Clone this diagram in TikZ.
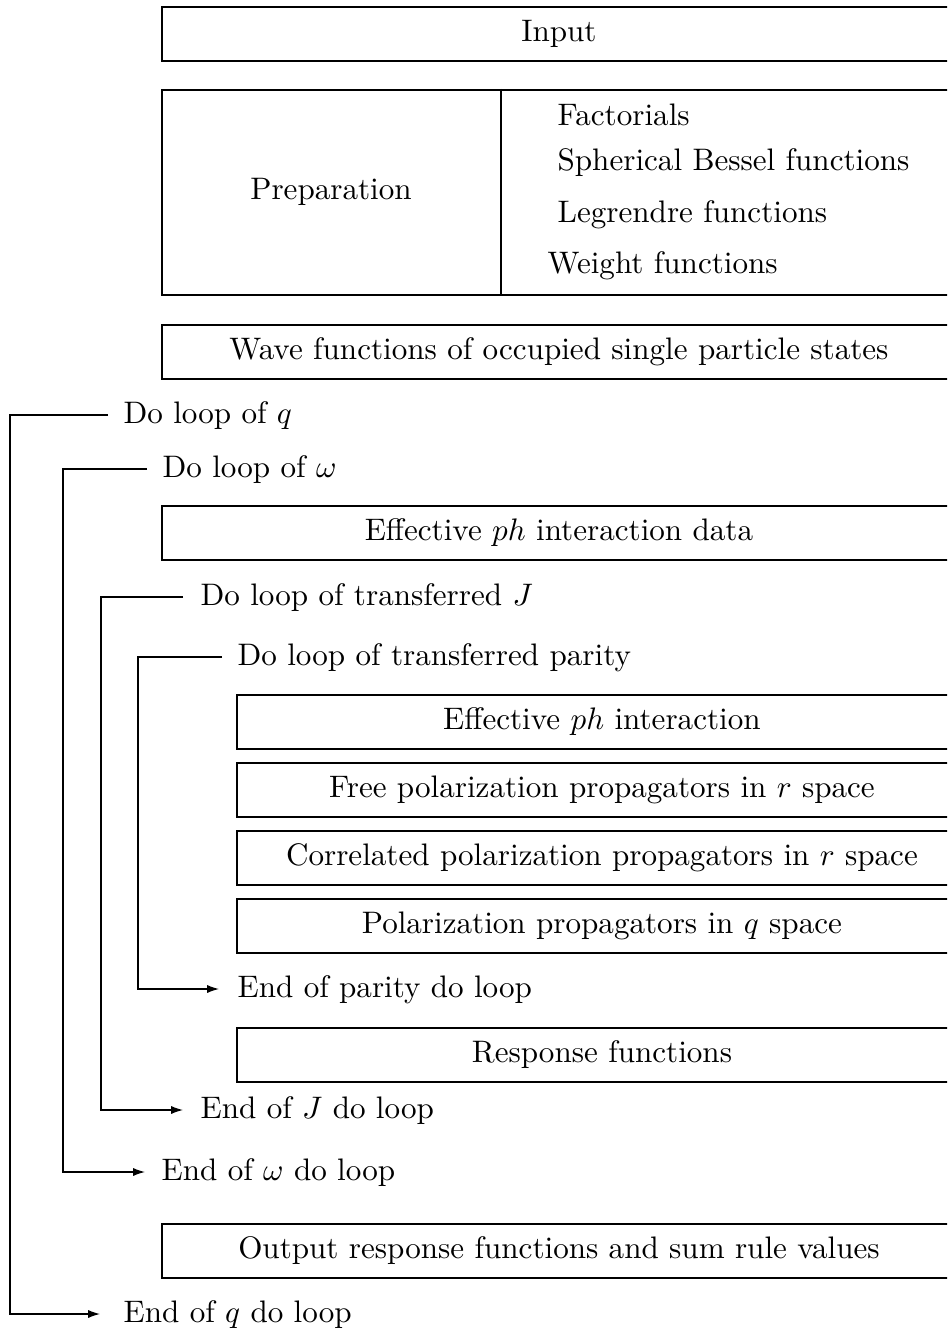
\documentclass[tikz,border=0pt]{standalone}
\usetikzlibrary{arrows.meta,calc}
\def\pxu{0.3215pt}
\begin{document}
\begin{tikzpicture}[x=\pxu,y=-\pxu,
  box/.style={draw,line width=0.6pt,rectangle,inner sep=0pt,anchor=north west,minimum height=54*\pxu},
  widebox/.style={box,minimum width=794*\pxu},
  innerbox/.style={box,minimum width=730*\pxu},
  lbl/.style={anchor=west,inner sep=0pt,text height=1.5ex,text depth=.25ex},
  loopline/.style={line width=0.4pt},
  looparrow/.style={loopline,-{Latex[length=3.8pt,width=2.6pt]}}]
\useasboundingbox (0,0) rectangle (947,1331);
\clip (0,0) rectangle (947,1331);

% boxes
\node[widebox] (input) at (161,6) {Input};
\node[widebox,minimum height=205*\pxu] (prep) at (161,89) {};
\node (preptext) at (331,191.5) {Preparation};
\coordinate (divx) at (501,0);
\draw[line width=0.8pt] (divx |- prep.north) -- (divx |- prep.south);
\node[lbl] (fact) at (557,117) {Factorials};
\node[lbl] (bessel) at (557,162) {Spherical Bessel functions};
\node[lbl] (legendre) at (557,214) {Legrendre functions};
\node[lbl] (weight) at (547,265) {Weight functions};

\node[widebox] (wave) at (161,324) {Wave functions of occupied single particle states};
\node[widebox] (effdata) at (161,505) {Effective $ph$ interaction data};
\node[innerbox] (effph) at (236,694) {Effective $ph$ interaction};
\node[innerbox] (free) at (236,762) {Free polarization propagators in $r$ space};
\node[innerbox] (corr) at (236,830) {Correlated polarization propagators in $r$ space};
\node[innerbox] (polq) at (236,898) {Polarization propagators in $q$ space};
\node[innerbox] (resp) at (236,1027) {Response functions};
\node[widebox] (out) at (161,1223) {Output response functions and sum rule values};

% loop labels
\node[lbl] (doq) at (123,415) {Do loop of $q$};
\node[lbl] (endq) at (123,1314) {End of $q$ do loop};
\node[lbl] (dow) at (162,469) {Do loop of $\omega$};
\node[lbl] (endw) at (161,1172) {End of $\omega$ do loop};
\node[lbl] (doJ) at (200,597) {Do loop of transferred $J$};
\node[lbl] (endJ) at (200,1110) {End of $J$ do loop};
\node[lbl] (dop) at (237,657) {Do loop of transferred parity};
\node[lbl] (endp) at (237,989) {End of parity do loop};

% loop connectors
\coordinate (xq) at (10,0);
\coordinate (xw) at (63,0);
\coordinate (xJ) at (101,0);
\coordinate (xp) at (138,0);
\draw[looparrow] ($(doq.west)+(-15,0)$) -- (xq |- doq.west) -- (xq |- endq.west) -- ($(endq.west)+(-23,0)$);
\draw[looparrow] ($(dow.west)+(-15,0)$) -- (xw |- dow.west) -- (xw |- endw.west) -- ($(endw.west)+(-16,0)$);
\draw[looparrow] ($(doJ.west)+(-17,0)$) -- (xJ |- doJ.west) -- (xJ |- endJ.west) -- ($(endJ.west)+(-17,0)$);
\draw[looparrow] ($(dop.west)+(-15,0)$) -- (xp |- dop.west) -- (xp |- endp.west) -- ($(endp.west)+(-18,0)$);
\end{tikzpicture}
\end{document}
